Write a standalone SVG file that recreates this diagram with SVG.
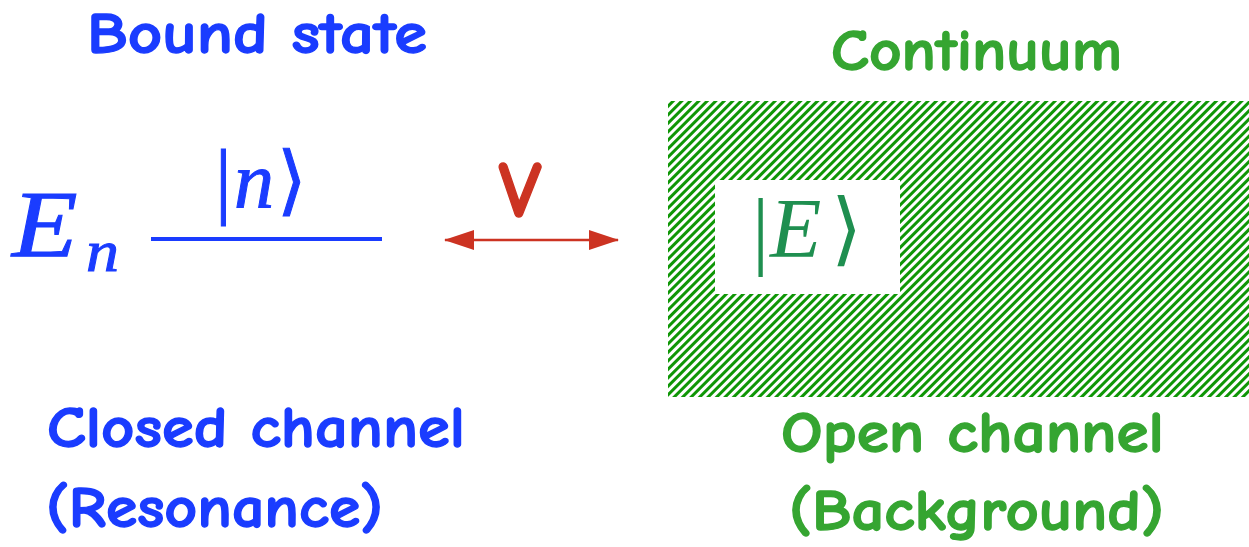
<svg xmlns="http://www.w3.org/2000/svg" width="1249" height="547" viewBox="0 0 1249 547">
<style>
.lbl{font-family:"Comic Neue","DejaVu Sans","Liberation Sans",sans-serif;font-weight:bold;font-size:58px;stroke-width:1.3px;stroke-linejoin:round}
.blue{fill:#1a3cff;stroke:#1a3cff}
.green{fill:#35a531;stroke:#35a531}
.math{font-family:"Liberation Serif",serif;font-style:italic;font-weight:normal}
.bar{font-family:"Liberation Serif",serif;font-weight:normal}
.mrm{font-family:"DejaVu Serif","Liberation Serif",serif;font-weight:normal}
</style>
<defs>
<pattern id="hatch" width="6" height="6" patternUnits="userSpaceOnUse" patternTransform="rotate(45)">
<rect x="0" y="0" width="3.4" height="6" fill="#0f9606" shape-rendering="crispEdges"/>
</pattern>
<marker id="ah" viewBox="0 0 30 20" refX="29" refY="10" markerWidth="30" markerHeight="20" markerUnits="userSpaceOnUse" orient="auto-start-reverse">
<path d="M0,0 L30,10 L0,20 Z" fill="#cc3322"/>
</marker>
</defs>
<rect width="1249" height="547" fill="#fff"/>

<g id="bound-state">
<text class="lbl blue" x="87" y="53" textLength="340" lengthAdjust="spacingAndGlyphs">Bound state</text>
</g>

<g id="level-n">
<text class="math blue" transform="translate(12,257) scale(1.12,1)" x="0" y="0" font-size="96">E</text>
<text class="math blue" transform="translate(86,271) scale(1.1,1)" x="0" y="0" font-size="60">n</text>
<line x1="151" y1="239" x2="382" y2="239" stroke="#1a3cff" stroke-width="4"/>
<text class="bar blue" x="215" y="208" font-size="84">|</text>
<text class="math blue" x="234" y="207" font-size="80">n</text>
<text class="mrm blue" x="277" y="206" font-size="76">⟩</text>
</g>

<g id="closed-channel">
<text class="lbl blue" x="47" y="447" textLength="418" lengthAdjust="spacingAndGlyphs">Closed channel</text>
<text class="lbl blue" x="46" y="527" textLength="337" lengthAdjust="spacingAndGlyphs">(Resonance)</text>
</g>

<g id="continuum">
<text class="lbl green" x="831" y="70" textLength="291" lengthAdjust="spacingAndGlyphs">Continuum</text>
<rect x="668" y="101" width="581" height="296" fill="url(#hatch)"/>
<rect x="715" y="180" width="185" height="114" fill="#fff"/>
<text class="bar" fill="#1f8f50" x="752" y="258" font-size="86">|</text>
<text class="math" fill="#1f8f50" x="770" y="257" font-size="84">E</text>
<text class="mrm" fill="#1f8f50" x="831" y="256" font-size="80">⟩</text>
</g>

<g id="open-channel">
<text class="lbl green" x="781" y="452" textLength="383" lengthAdjust="spacingAndGlyphs">Open channel</text>
<text class="lbl green" x="789" y="530" textLength="375" lengthAdjust="spacingAndGlyphs">(Background)</text>
</g>

<g id="connectors">
<line x1="445" y1="240" x2="618" y2="240" stroke="#cc3322" stroke-width="2.5" marker-start="url(#ah)" marker-end="url(#ah)"/>
<text class="lbl" fill="#cc3322" stroke="#cc3322" x="520" y="217" text-anchor="middle" style="font-size:80px">V</text>
</g>
</svg>
